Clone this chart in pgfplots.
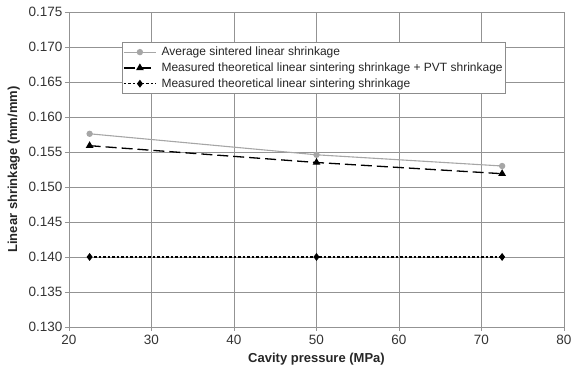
\documentclass[border=0pt]{standalone}
\usepackage{pgfplots}
\pgfplotsset{compat=1.18}
\usepackage{fontspec}
\setmainfont{Liberation Sans}
\begin{document}
\begin{tikzpicture}[x=1pt,y=1pt]
\useasboundingbox (-69pt,-53pt) rectangle (505pt,327pt);
\begin{axis}[
  at={(0,0)}, anchor=south west,
  scale only axis, width=495pt, height=315pt,
  xmin=20, xmax=80, ymin=0.130, ymax=0.175,
  xtick={20,30,...,80},
  ytick={0.130,0.135,...,0.1751},
  grid=major,
  grid style={draw=gray!85, line width=0.7pt},
  axis line style={draw=gray!85, line width=0.7pt},
  tick style={draw=gray!85, line width=0.7pt},
  tick align=outside,
  major tick length=4pt,
  xtick pos=bottom, ytick pos=left,
  /pgf/number format/assume math mode=true,
  yticklabel style={/pgf/number format/fixed, /pgf/number format/fixed zerofill, /pgf/number format/precision=3, xshift=1pt},
  xticklabel style={yshift=-1pt},
  ticklabel style={font=\fontsize{13.5}{15}\selectfont, text=black!80},
  xlabel={\textbf{Cavity pressure (MPa)}},
  ylabel={\textbf{Linear shrinkage (mm/mm)}},
  label style={font=\fontsize{13}{15}\selectfont, text=black!85},
  xlabel style={yshift=-1pt},
  ylabel style={yshift=2pt},
  legend style={at={(0.107,0.905)}, anchor=north west, draw=gray!90, line width=0.6pt,
    font=\fontsize{12}{14}\selectfont, text=black!85, inner xsep=1pt, inner ysep=2pt, row sep=0pt,
    nodes={inner ysep=2.8pt},
    /tikz/every odd column/.style={column sep=3pt},
    legend cell align=left},
  legend image code/.code={\draw[mark repeat=2,mark phase=2,#1] plot coordinates {(0pt,0pt) (16pt,0pt) (32pt,0pt)};},
]
\addplot[color=gray!70, line width=1.1pt, mark=*, mark size=2.6pt, mark options={fill=gray!70, draw=gray!70}]
  coordinates {(22.5,0.1576) (50,0.1546) (72.5,0.1530)};
\addlegendentry{Average sintered linear shrinkage}
\addplot[color=black, line width=1.3pt, dash pattern=on 11pt off 5pt, mark=triangle*, mark size=3.2pt, mark options={solid, fill=black}]
  coordinates {(22.5,0.1559) (50,0.1535) (72.5,0.1519)};
\addlegendentry{Measured theoretical linear sintering shrinkage + PVT shrinkage}
\addplot[color=black, line width=1.2pt, dash pattern=on 2.5pt off 2pt, mark=diamond*, mark size=3pt, mark options={solid, fill=black}]
  coordinates {(22.5,0.140) (50,0.140) (72.5,0.140)};
\addlegendentry{Measured theoretical linear sintering shrinkage}
\end{axis}
\end{tikzpicture}
\end{document}
